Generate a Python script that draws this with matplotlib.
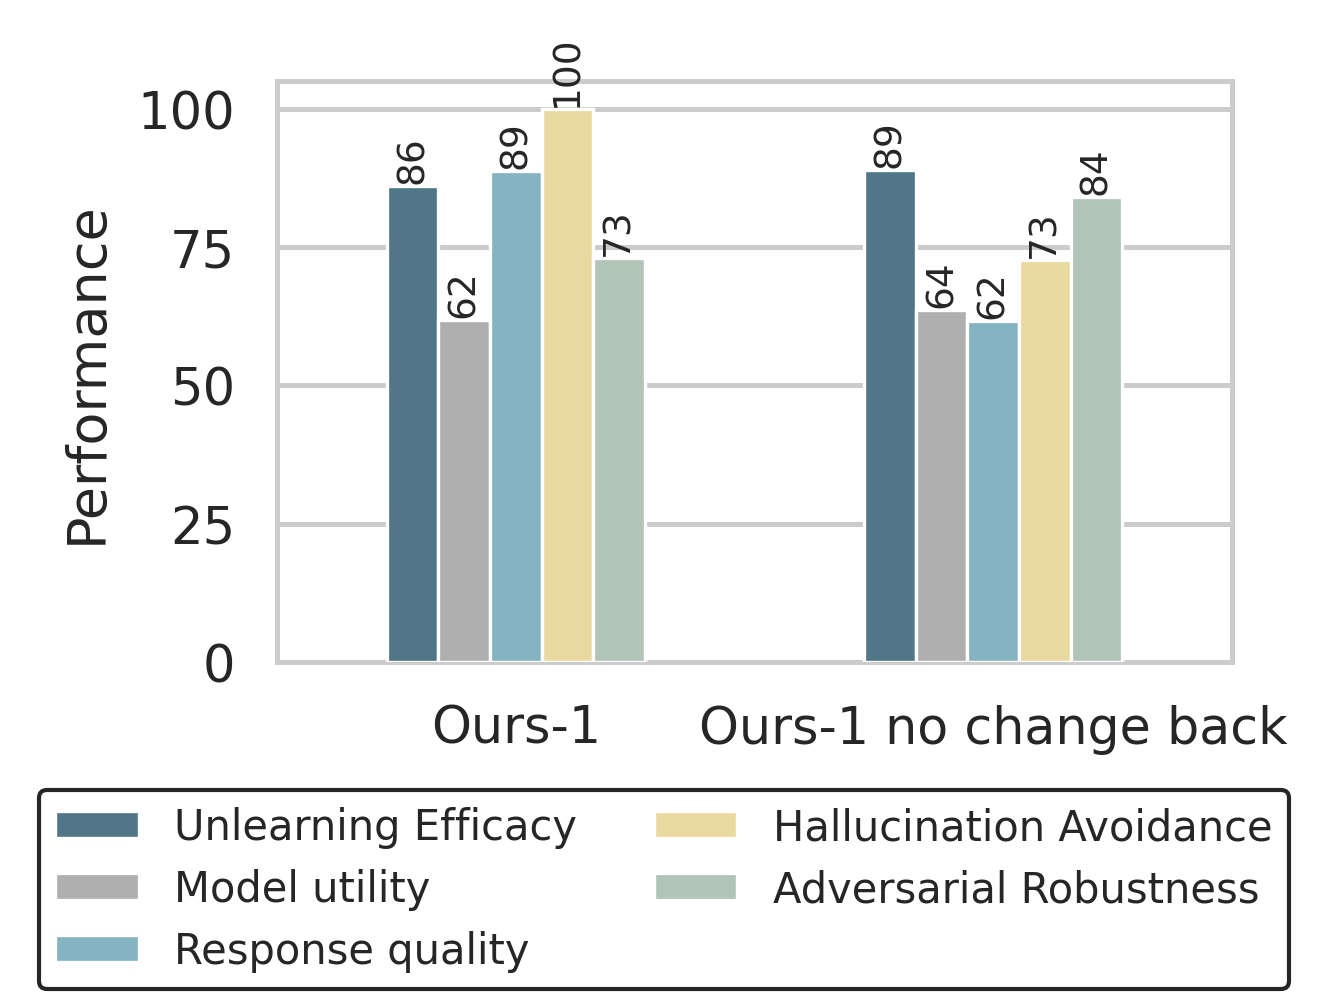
import numpy as np
import matplotlib
matplotlib.use("Agg")
import matplotlib.pyplot as plt

# ---- data ----
groups = ["Ours-1", "Ours-1 no change back"]
metrics = ["Unlearning Efficacy", "Model utility", "Response quality",
           "Hallucination Avoidance", "Adversarial Robustness"]
colors = ["#507687", "#b0afb0", "#84b3c2", "#e9d89f", "#b2c4b7"]

unlearning = [86.0, 88.9]
utility = [61.8, 63.6]
response = [88.7, 61.6]
halluc = [99.9, 72.6]
adversarial = [73.0, 84.0]
values = [unlearning, utility, response, halluc, adversarial]

fig = plt.figure(figsize=(4.43, 3.3233), dpi=300)
ax = fig.add_axes([0.2084, 0.335, 0.7186, 0.5828])

x = np.arange(len(groups))
w = 0.108
for i, (name, vals, c) in enumerate(zip(metrics, values, colors)):
    bars = ax.bar(x + (i - 2) * w, vals, width=w, color=c, label=name,
                  edgecolor="white", linewidth=0.8, zorder=3)
    ax.bar_label(bars, labels=["%.0f" % v for v in vals], rotation=90,
                 fontsize=9, color="#262626", padding=0.8)

ax.set_xlim(-0.5, 1.5)
ax.set_ylim(0, 105)
ax.set_yticks([0, 25, 50, 75, 100])
ax.set_xticks(x)
ax.set_xticklabels(groups, fontsize=12.2, color="#262626")
ax.tick_params(axis="y", labelsize=12.3, colors="#262626", length=0, pad=10)
ax.tick_params(axis="x", length=0, pad=10)
ax.set_ylabel("Performance", fontsize=13, color="#262626", labelpad=6)

ax.grid(axis="y", color="#cccccc", linewidth=1.2, zorder=0)
ax.set_axisbelow(True)
for s in ax.spines.values():
    s.set_color("#cccccc")
    s.set_linewidth(1.2)

leg = fig.legend(loc="upper center", bbox_to_anchor=(0.4995, 0.228), ncol=2,
                 fontsize=10, frameon=True, fancybox=True, framealpha=1,
                 handlelength=2.0, handleheight=0.6, handletextpad=0.85,
                 columnspacing=1.85, labelspacing=0.48, borderpad=0.4)
frame = leg.get_frame()
frame.set_edgecolor("#262626")
frame.set_linewidth(1.0)
for t in leg.get_texts():
    t.set_color("#262626")

fig.savefig("out.png", dpi=300)
